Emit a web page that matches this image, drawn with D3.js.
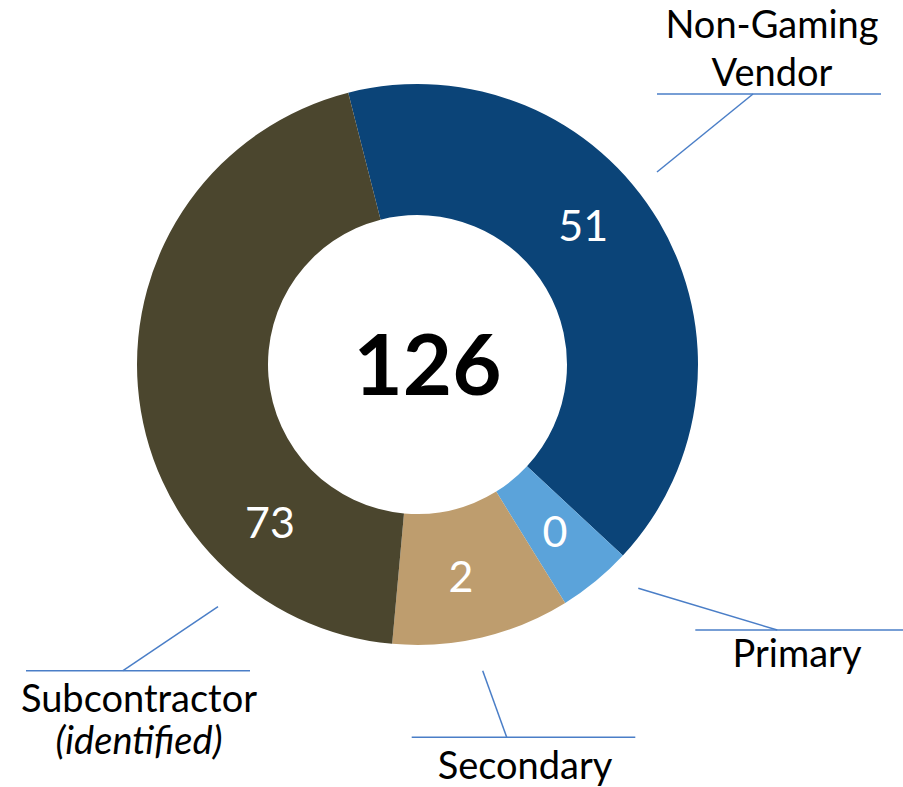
<!DOCTYPE html>
<html>
<head>
<meta charset="utf-8">
<script src="https://cdn.jsdelivr.net/npm/d3@7"></script>
<style>
  body { margin: 0; background: #fff; }
  text { font-family: Lato, "Open Sans", sans-serif; }
</style>
</head>
<body>
<script>
// categories, slice sizes (as drawn) and the numbers printed on them
var categories = ["Non-Gaming Vendor", "Primary", "Secondary", "Subcontractor"];
var sliceValues = [51, 5.3, 12.8, 55.6];
var labelValues = [51, 0, 2, 73];
var colors = ["#0B4478", "#5BA3DA", "#BE9D6E", "#4B462E"];

// where the value labels sit (degrees clockwise from top)
var labelAngle = [50.1, 140.5, 168.4, 223.1];

var width = 903, height = 787;
var cx = 417.5, cy = 364.5;
var outerR = 280.5, innerR = 149.5;

var svg = d3.select("body").append("svg")
  .attr("width", width)
  .attr("height", height);

var g = svg.append("g")
  .attr("transform", "translate(" + cx + "," + cy + ")");

var start = -14.3 * Math.PI / 180;
var pie = d3.pie()
  .sort(null)
  .startAngle(start)
  .endAngle(start + 2 * Math.PI)
  .value(function(d) { return d; });

var arc = d3.arc().innerRadius(innerR).outerRadius(outerR);

g.selectAll("path.slice")
  .data(pie(sliceValues))
  .enter()
  .append("path")
  .attr("class", "slice")
  .attr("d", arc)
  .attr("fill", function(d, i) { return colors[i]; });

// value labels
g.selectAll("text.val")
  .data(labelValues)
  .enter()
  .append("text")
  .attr("class", "val")
  .attr("x", function(d, i) { return 216 * Math.sin(labelAngle[i] * Math.PI / 180); })
  .attr("y", function(d, i) { return -216 * Math.cos(labelAngle[i] * Math.PI / 180); })
  .attr("dy", "0.36em")
  .attr("text-anchor", "middle")
  .attr("fill", "#fff")
  .attr("font-size", "43px")
  .text(function(d) { return d; });

// total in the hole
g.append("text")
  .attr("x", 10)
  .attr("y", 30.5)
  .attr("text-anchor", "middle")
  .attr("font-weight", "bold")
  .attr("font-size", "85px")
  .attr("fill", "#000")
  .text(d3.sum(labelValues));

// category call-outs: tip of leader, elbow, horizontal rule, text lines
var callouts = [
  {tip: [657, 172], elbow: [753, 94], rule: [657, 881], tx: 772, ty: [38, 86], lines: ["Non-Gaming", "Vendor"]},
  {tip: [638.3, 588.3], elbow: [777.3, 630], rule: [695.3, 920], tx: 797, ty: [667], lines: ["Primary"]},
  {tip: [482.7, 670.7], elbow: [506.7, 737.3], rule: [411.7, 635.3], tx: 525, ty: [779], lines: ["Secondary"]},
  {tip: [218, 606.7], elbow: [123, 670.7], rule: [26, 250], tx: 139, ty: [712, 754], lines: ["Subcontractor", "(identified)"]}
];

var co = svg.selectAll("g.callout")
  .data(callouts)
  .enter()
  .append("g")
  .attr("class", "callout");

co.append("line")
  .attr("x1", function(d) { return d.tip[0]; })
  .attr("y1", function(d) { return d.tip[1]; })
  .attr("x2", function(d) { return d.elbow[0]; })
  .attr("y2", function(d) { return d.elbow[1]; })
  .attr("stroke", "#4A7EC7")
  .attr("stroke-width", 1.5);

co.append("line")
  .attr("x1", function(d) { return d.rule[0]; })
  .attr("x2", function(d) { return d.rule[1]; })
  .attr("y1", function(d) { return d.elbow[1]; })
  .attr("y2", function(d) { return d.elbow[1]; })
  .attr("stroke", "#4A7EC7")
  .attr("stroke-width", 1.5);

co.each(function(d) {
  var sel = d3.select(this);
  d.lines.forEach(function(t, j) {
    sel.append("text")
      .attr("x", d.tx)
      .attr("y", d.ty[j])
      .attr("text-anchor", "middle")
      .attr("font-size", "38px")
      .attr("font-style", t.charAt(0) == "(" ? "italic" : "normal")
      .attr("fill", "#000")
      .text(t);
  });
});
</script>
</body>
</html>
